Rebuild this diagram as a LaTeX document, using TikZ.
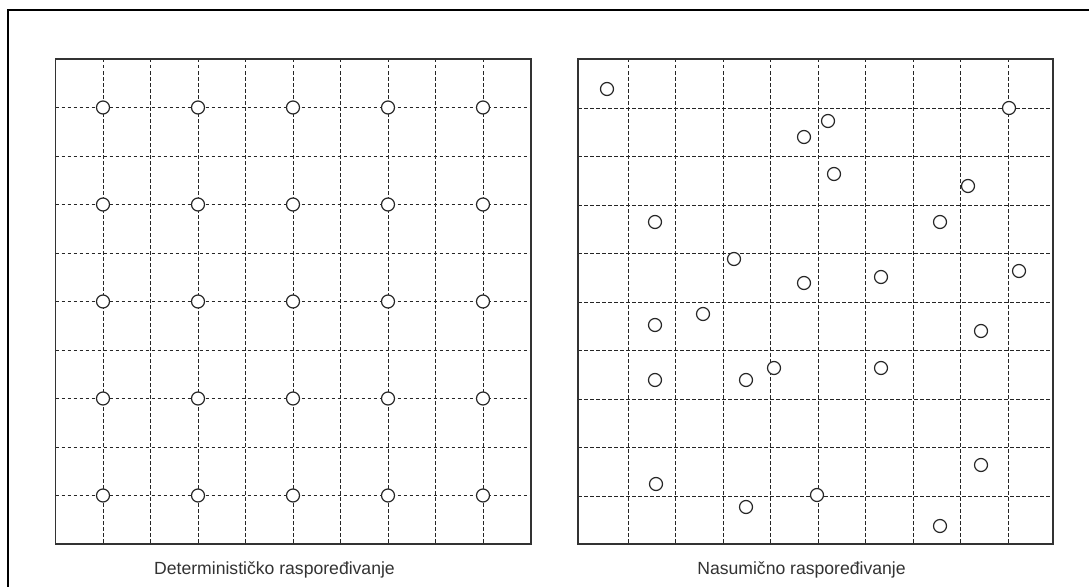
\documentclass[tikz,border=0pt]{standalone}
\usepackage{fontspec}
\setmainfont{Liberation Sans}
\begin{document}
\begin{tikzpicture}[x=1pt,y=-1pt,
  gridline/.style={draw=black!85, line width=0.9pt, dash pattern=on 3.5pt off 2.5pt},
  frame/.style={draw=black!80, line width=1.3pt},
  outer/.style={draw=black, line width=1.4pt},
  dot/.style={circle, draw=black!85, fill=white, line width=1.2pt, minimum size=13pt, inner sep=0pt},
  caption/.style={text=black!80, font=\fontsize{17.6}{21}\selectfont, inner sep=0pt}]
\useasboundingbox (0,0) rectangle (1089,586);
\fill[white] (0,0) rectangle (1089,586);
% outer frame (extends beyond the picture)
\draw[outer] (8,600) -- (8,10) -- (1100,10);
% left grid
\foreach \k in {1,...,9} {
  \draw[gridline] ({55.7+47.5*\k},59) -- ({55.7+47.5*\k},544);
  \draw[gridline] (55.7,{59+48.5*\k}) -- (531,{59+48.5*\k});
}
\draw[frame] (55.7,59) rectangle (531,544);
% right grid
\foreach \k in {0,...,8} {
  \draw[gridline] ({628+47.5*\k},59) -- ({628+47.5*\k},544);
}
\foreach \k in {1,...,9} {
  \draw[gridline] (578,{59.5+48.5*\k}) -- (1053,{59.5+48.5*\k});
}
\draw[frame] (578,59) rectangle (1053,544);
% deterministic dots
\foreach \i/\x in {1/103,2/198,3/293,4/388,5/483} {
  \foreach \j/\y in {1/107.5,2/204.5,3/301.5,4/398.5,5/495.5} {
    \node[dot] (l\i\j) at (\x,\y) {};
  }
}
% random dots
\foreach \n/\x/\y in {1/607/89, 2/1009/108, 3/828/121, 4/804/137, 5/834/174,
  6/968/186, 7/655/222, 8/940/222, 9/734/259, 10/1019/271, 11/881/277,
  12/804/283, 13/703/314, 14/655/325, 15/981/331, 16/774/368, 17/881/368,
  18/655/380, 19/746/380, 20/981/465, 21/656/484, 22/817/495, 23/746/507,
  24/940/526} {
  \node[dot] (r\n) at (\x,\y) {};
}
% captions
\node[caption] (capL) at (274.5,570) {Determinističko raspoređivanje};
\node[caption] (capR) at (801.5,570) {Nasumično raspoređivanje};
\end{tikzpicture}
\end{document}
